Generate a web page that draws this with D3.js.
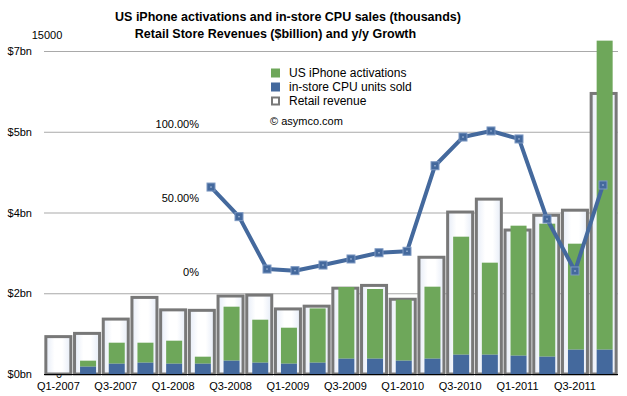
<!DOCTYPE html>
<html>
<head>
<meta charset="utf-8">
<script src="https://cdn.jsdelivr.net/npm/d3@7"></script>
<style>
  body { margin: 0; background: #fff; }
  svg { font-family: "Liberation Sans", Arial, Helvetica, sans-serif; }
</style>
</head>
<body>
<div id="chart"></div>
<script>
// quarters shown on the x axis
const quarters = [
  "Q1-2007", "Q2-2007", "Q3-2007", "Q4-2007",
  "Q1-2008", "Q2-2008", "Q3-2008", "Q4-2008",
  "Q1-2009", "Q2-2009", "Q3-2009", "Q4-2009",
  "Q1-2010", "Q2-2010", "Q3-2010", "Q4-2010",
  "Q1-2011", "Q2-2011", "Q3-2011", "Q4-2011"
];

// retail store revenue ($bn)
const revenue = [0.81, 0.88, 1.19, 1.66, 1.39, 1.38, 1.69, 1.71, 1.41, 1.47,
  1.86, 1.92, 1.62, 2.53, 3.51, 3.79, 3.12, 3.44, 3.55, 6.08];

// in-store CPU units sold (thousands)
const cpuUnits = [0, 339, 478, 525, 478, 478, 618, 525, 478, 525,
  711, 711, 618, 711, 896, 896, 850, 804, 1129, 1129];

// US iPhone activations (thousands)
const iphoneActivations = [0, 280, 976, 929, 1069, 326, 2508, 1997, 1672, 2522,
  3330, 3237, 2833, 3344, 5481, 4274, 6038, 6177, 4923, 14352];

// y/y revenue growth, Q2-2008 onward
const growthQuarters = quarters.slice(5);
const growth = [0.574, 0.374, 0.020, 0.009, 0.047, 0.088, 0.130, 0.140,
  0.718, 0.912, 0.953, 0.899, 0.358, 0.007, 0.588];

const revTicks = [0, 1.75, 3.5, 5.25, 7];
const revTickLabels = ["$0bn", "$2bn", "$4bn", "$5bn", "$7bn"];
const growthTicks = [0, 0.5, 1];
const growthTickLabels = ["0%", "50.00%", "100.00%"];

const legendItems = ["US iPhone activations", "in-store CPU units sold", "Retail revenue"];

const width = 627, height = 396;
const plot = { left: 44, right: 618, top: 51, bottom: 374 };

const svg = d3.select("#chart").append("svg")
  .attr("width", width)
  .attr("height", height);

const defs = svg.append("defs");
const grad = defs.append("linearGradient").attr("id", "boxfill")
  .attr("x1", "0").attr("x2", "1").attr("y1", "0").attr("y2", "0");
grad.append("stop").attr("offset", "0%").attr("stop-color", "#e6ecf7");
grad.append("stop").attr("offset", "35%").attr("stop-color", "#ffffff");
grad.append("stop").attr("offset", "65%").attr("stop-color", "#ffffff");
grad.append("stop").attr("offset", "100%").attr("stop-color", "#e6ecf7");

const x = d3.scaleBand().domain(quarters).range([plot.left, plot.right]).padding(0);
const yRev = d3.scaleLinear().domain([0, 7]).range([plot.bottom, plot.top]);
const yUnits = d3.scaleLinear().domain([0, 15000]).range([plot.bottom, plot.top]);
const xLine = d3.scalePoint().domain(growthQuarters).range([211, 603]);
const yGrowth = d3.scaleLinear().domain([0, 1]).range([272, 124]);

// gridlines
svg.append("g")
  .selectAll("line")
  .data(revTicks.slice(1))
  .join("line")
  .attr("x1", plot.left)
  .attr("x2", plot.right)
  .attr("y1", d => yRev(d) + 0.5)
  .attr("y2", d => yRev(d) + 0.5)
  .attr("stroke", "#a9a9a9")
  .attr("stroke-width", 1);

// revenue axis labels
svg.append("g")
  .selectAll("text")
  .data(revTicks)
  .join("text")
  .attr("x", 32)
  .attr("y", d => yRev(d) + 4)
  .attr("text-anchor", "end")
  .attr("font-size", 11)
  .text((d, i) => revTickLabels[i]);

// units axis labels
svg.append("text").attr("x", 47).attr("y", 39).attr("text-anchor", "middle")
  .attr("font-size", 11).text(yUnits.domain()[1]);
svg.append("text").attr("x", 59).attr("y", 378).attr("text-anchor", "middle")
  .attr("font-size", 11).text(yUnits.domain()[0]);

// growth axis labels
svg.append("g")
  .selectAll("text")
  .data(growthTicks)
  .join("text")
  .attr("x", 199)
  .attr("y", d => yGrowth(d) + 4)
  .attr("text-anchor", "end")
  .attr("font-size", 11)
  .text((d, i) => growthTickLabels[i]);

// retail revenue boxes (soft shadow then outline)
const boxW = 25;
svg.append("g")
  .selectAll("rect")
  .data(quarters)
  .join("rect")
  .attr("x", d => x(d) + x.bandwidth() / 2 - boxW / 2 + 1.2)
  .attr("y", (d, i) => yRev(revenue[i]))
  .attr("width", boxW)
  .attr("height", (d, i) => plot.bottom - yRev(revenue[i]))
  .attr("fill", "#f0f4fb")
  .attr("opacity", 0.9);

svg.append("g")
  .selectAll("rect")
  .data(quarters)
  .join("rect")
  .attr("x", d => x(d) + x.bandwidth() / 2 - boxW / 2)
  .attr("y", (d, i) => yRev(revenue[i]))
  .attr("width", boxW)
  .attr("height", (d, i) => plot.bottom - yRev(revenue[i]))
  .attr("fill", "url(#boxfill)")
  .attr("stroke", "#787878")
  .attr("stroke-width", 3);

// stacked bars: CPU at the bottom, iPhone on top
const barW = 16;
svg.append("g")
  .selectAll("rect")
  .data(quarters)
  .join("rect")
  .attr("x", d => x(d) + x.bandwidth() / 2 - barW / 2 + 1)
  .attr("y", (d, i) => yUnits(cpuUnits[i] + iphoneActivations[i]))
  .attr("width", barW)
  .attr("height", (d, i) => yUnits(cpuUnits[i]) - yUnits(cpuUnits[i] + iphoneActivations[i]))
  .attr("fill", "#6ea75a");

svg.append("g")
  .selectAll("rect")
  .data(quarters)
  .join("rect")
  .attr("x", d => x(d) + x.bandwidth() / 2 - barW / 2 + 1)
  .attr("y", (d, i) => yUnits(cpuUnits[i]))
  .attr("width", barW)
  .attr("height", (d, i) => plot.bottom - yUnits(cpuUnits[i]))
  .attr("fill", "#44699d");

// baseline
svg.append("line")
  .attr("x1", plot.left).attr("x2", plot.right)
  .attr("y1", plot.bottom + 0.5).attr("y2", plot.bottom + 0.5)
  .attr("stroke", "#000").attr("stroke-width", 1.2);

// x axis labels (every other quarter)
svg.append("g")
  .selectAll("text")
  .data(quarters.filter((d, i) => i % 2 === 0))
  .join("text")
  .attr("x", d => x(d) + x.bandwidth() / 2)
  .attr("y", 390)
  .attr("text-anchor", "middle")
  .attr("font-size", 11)
  .text(d => d);

// growth line
const line = d3.line()
  .x((d, i) => xLine(growthQuarters[i]))
  .y(d => yGrowth(d));

svg.append("path")
  .datum(growth)
  .attr("d", line)
  .attr("fill", "none")
  .attr("stroke", "#44699d")
  .attr("stroke-width", 4)
  .attr("stroke-linejoin", "round");

const markers = svg.append("g")
  .selectAll("g")
  .data(growth)
  .join("g")
  .attr("transform", (d, i) => `translate(${xLine(growthQuarters[i])},${yGrowth(d)})`);
markers.append("rect")
  .attr("x", -4).attr("y", -4).attr("width", 8).attr("height", 8)
  .attr("fill", "#44699d").attr("stroke", "#7c98c2").attr("stroke-width", 1);
markers.append("rect")
  .attr("x", -0.7).attr("y", -0.7).attr("width", 1.4).attr("height", 1.4)
  .attr("fill", "#a9bddb");

// title
svg.append("text").attr("x", 288).attr("y", 21).attr("text-anchor", "middle")
  .attr("font-size", 12.5).attr("font-weight", "bold")
  .text("US iPhone activations and in-store CPU sales (thousands)");
svg.append("text").attr("x", 275.5).attr("y", 38).attr("text-anchor", "middle")
  .attr("font-size", 12.5).attr("font-weight", "bold")
  .text("Retail Store Revenues ($billion) and y/y Growth");

// legend
const legend = svg.append("g");
const legendY = d3.scalePoint().domain(legendItems).range([73, 101]);
legend.selectAll("rect.sw")
  .data(legendItems.slice(0, 2))
  .join("rect")
  .attr("class", "sw")
  .attr("x", 271)
  .attr("y", d => legendY(d) - 4.5)
  .attr("width", 9).attr("height", 9)
  .attr("fill", (d, i) => i === 0 ? "#6ea75a" : "#44699d");
legend.append("rect")
  .attr("x", 272).attr("y", legendY(legendItems[2]) - 3.5)
  .attr("width", 7).attr("height", 7)
  .attr("fill", "#fff").attr("stroke", "#787878").attr("stroke-width", 2);
legend.selectAll("text")
  .data(legendItems)
  .join("text")
  .attr("x", 289)
  .attr("y", d => legendY(d) + 4)
  .attr("font-size", 12)
  .text(d => d);
legend.append("text")
  .attr("x", 270).attr("y", 125)
  .attr("font-size", 11)
  .text("© asymco.com");
</script>
</body>
</html>
